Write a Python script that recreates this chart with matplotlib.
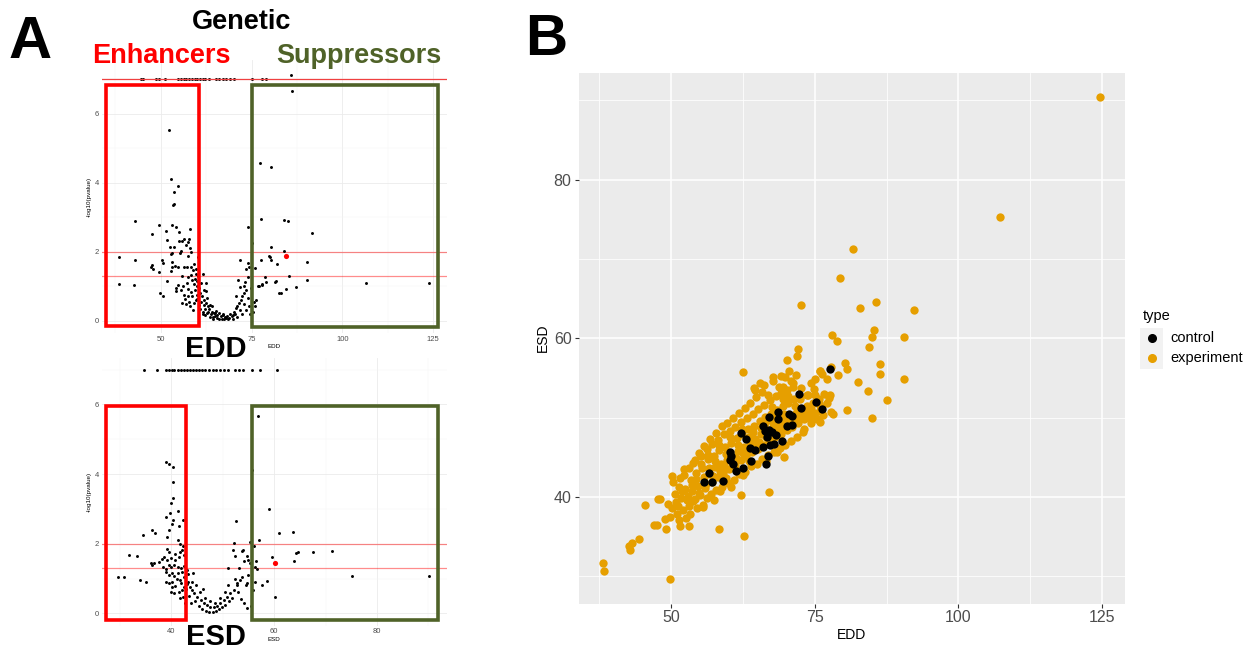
import numpy as np
import matplotlib
matplotlib.use('Agg')
import matplotlib.pyplot as plt
from matplotlib.patches import Rectangle
from matplotlib.lines import Line2D
from matplotlib.ticker import MultipleLocator

plt.rcParams['font.family'] = ['Liberation Sans', 'DejaVu Sans']

# ---- panel A top: EDD vs -log10(pvalue) ----
edd_volcano = [
    (86.0, 7.12), (86.1, 6.66), (52.3, 5.53), (52.7, 4.12), (54.7, 3.91), (53.7, 3.72), (53.5, 3.38), (53.4, 3.34),
    (77.2, 4.58), (80.4, 4.45), (43.0, 2.90), (49.4, 2.77), (47.5, 2.51), (53.0, 2.76), (54.1, 2.71), (51.5, 2.61),
    (55.1, 2.57), (58.0, 2.65), (77.6, 2.94), (84.0, 2.91), (85.0, 2.89), (91.8, 2.53), (74.1, 2.71), (75.1, 2.24),
    (80.3, 2.12), (84.0, 2.03), (79.9, 1.86), (77.7, 1.76), (80.5, 1.75), (82.1, 1.64), (90.3, 1.71), (85.3, 1.30),
    (78.7, 1.26), (79.0, 1.13), (81.5, 1.13), (90.3, 1.18), (77.9, 1.03), (76.9, 0.99), (87.2, 0.97), (84.6, 0.91),
    (82.6, 0.79), (106.6, 1.08), (123.8, 1.08), (38.4, 1.83), (38.6, 1.06), (43.0, 1.75), (42.6, 1.02), (47.5, 1.61),
    (47.2, 1.55), (47.9, 1.49), (49.6, 1.41), (50.2, 1.76), (50.6, 1.68), (49.8, 0.81), (50.6, 0.71), (51.7, 1.16),
    (51.6, 2.34), (52.5, 2.14), (53.5, 2.12), (53.0, 1.97), (52.8, 1.93), (55.9, 2.32), (56.4, 2.36), (57.7, 2.37),
    (57.5, 2.27), (54.9, 2.31), (55.5, 2.02), (55.3, 1.97), (57.0, 2.18), (58.1, 2.10), (58.3, 1.98), (57.5, 1.87),
    (53.0, 1.71), (53.9, 1.57), (54.8, 1.55), (56.3, 1.55), (57.2, 1.55), (52.8, 1.45), (53.2, 1.55), (58.3, 1.55),
    (58.8, 1.47), (59.7, 1.49), (55.7, 1.28), (57.4, 1.26), (58.3, 1.32), (59.7, 1.35), (60.3, 1.28), (54.6, 1.03),
    (56.0, 1.00), (57.2, 1.08), (58.7, 1.18), (59.2, 1.06), (60.1, 1.00), (61.0, 1.10), (62.4, 1.08), (54.3, 0.94),
    (55.5, 0.89), (54.1, 0.87), (57.5, 0.93), (58.3, 0.84), (59.4, 0.89), (56.4, 0.74), (57.5, 0.70), (58.7, 0.71),
    (59.9, 0.74), (60.8, 0.81), (55.9, 0.52), (56.9, 0.48), (58.1, 0.43), (59.2, 0.50), (60.1, 0.62), (61.0, 0.55),
    (61.9, 0.45), (62.7, 0.65), (63.1, 0.41), (63.3, 0.33), (64.0, 0.26), (64.7, 0.21), (65.2, 0.29), (65.6, 0.16),
    (66.1, 0.23), (66.5, 0.12), (67.0, 0.16), (67.6, 0.10), (68.2, 0.14), (68.8, 0.07), (69.5, 0.12), (70.0, 0.16),
    (61.5, 0.26), (62.1, 0.33), (62.7, 0.21), (63.6, 0.45), (64.2, 0.41), (64.9, 0.23), (66.0, 0.05), (65.4, 0.07),
    (67.5, 0.04), (68.4, 0.04), (70.2, 0.26), (70.7, 0.36), (71.1, 0.43), (71.6, 0.52), (72.1, 0.60), (71.9, 0.31),
    (72.5, 0.70), (73.0, 0.79), (73.4, 0.89), (72.8, 0.48), (73.9, 0.65), (74.4, 0.41), (71.3, 1.18), (71.9, 0.97),
    (72.8, 1.00), (73.2, 1.13), (71.9, 1.76), (73.9, 1.68), (73.4, 1.49), (74.4, 1.55), (75.9, 1.52), (76.2, 0.60),
    (75.9, 0.41), (80.2, 1.84), (81.8, 1.15), (77.0, 1.00), (78.0, 1.05), (83.1, 0.79),
    (59.5, 1.20), (60.0, 1.15), (60.5, 0.95), (59.8, 0.60), (60.4, 0.45), (61.3, 0.70), (61.8, 0.90), (62.0, 0.60),
    (62.5, 0.50), (63.0, 0.25), (63.8, 0.18), (64.5, 0.10), (65.0, 0.12), (66.8, 0.06), (67.2, 0.20), (68.0, 0.08),
    (69.0, 0.20), (69.8, 0.05), (70.5, 0.18), (71.0, 0.10), (60.9, 0.35), (61.6, 0.20), (62.3, 0.15), (63.5, 0.10),
    (64.3, 0.05), (58.9, 0.30), (57.8, 0.55), (56.6, 0.62), (60.2, 1.85), (59.2, 1.65), (61.5, 1.35), (62.5, 0.85),
    (70.8, 0.70), (72.3, 0.20), (73.6, 0.30), (74.6, 0.20), (74.8, 0.95), (74.0, 1.25), (75.5, 0.26), (75.8, 0.55),
]
edd_capped = [44.5, 45.2, 48.8, 49.6, 51.2, 54.7, 55.5, 56.3, 57.0, 57.8, 58.5, 59.3, 60.0, 60.8, 61.5, 62.3,
              63.2, 65.2, 66.0, 67.0, 68.0, 69.0, 70.1, 75.0, 78.0, 78.9]
edd_highlight = (84.5, 1.86)

# ---- panel A bottom: ESD vs -log10(pvalue) ----
esd_volcano = [
    (56.8, 5.67), (55.6, 4.13), (58.9, 2.99), (61.0, 2.31), (63.6, 2.34), (57.0, 2.10), (55.2, 2.04), (59.6, 1.63),
    (63.8, 1.51), (64.3, 1.72), (64.6, 1.75), (67.5, 1.75), (71.3, 1.79), (75.2, 1.07), (90.2, 1.07), (58.6, 0.94),
    (57.7, 0.81), (60.1, 0.46), (55.8, 0.67), (52.5, 2.66), (52.1, 2.03), (52.0, 1.82), (52.4, 1.65), (54.0, 1.82),
    (54.7, 1.65), (55.0, 1.53), (55.3, 1.44), (56.0, 1.92), (56.3, 1.34), (56.6, 1.28), (51.1, 1.29), (54.7, 0.86),
    (54.6, 0.81), (52.7, 0.86), (53.4, 0.96), (53.7, 1.05),
    (39.0, 4.36), (39.6, 4.29), (40.4, 4.21), (40.4, 3.78), (39.9, 3.18), (40.3, 3.30), (39.7, 2.87), (41.2, 2.95),
    (39.0, 2.78), (40.4, 2.68), (40.1, 2.57), (42.3, 2.68), (41.5, 2.51), (34.4, 2.25), (36.3, 2.38), (36.8, 2.32),
    (39.2, 2.19), (39.5, 2.39), (41.3, 2.11), (41.6, 1.99), (42.3, 1.92), (31.8, 1.68), (33.3, 1.65), (39.2, 1.84),
    (39.5, 1.77), (38.6, 1.63), (39.1, 1.53), (39.9, 1.58), (41.7, 1.77), (42.1, 1.82), (42.4, 1.68), (41.5, 1.63),
    (40.8, 1.53), (36.0, 1.44), (36.3, 1.39), (36.7, 1.46), (37.6, 1.48), (38.1, 1.55), (38.3, 1.34), (38.9, 1.26),
    (39.9, 1.34), (40.5, 1.39), (41.2, 1.32), (41.8, 1.29), (42.4, 1.36), (29.7, 1.05), (30.7, 1.05), (33.9, 0.96),
    (35.1, 0.89),
    (38.9, 1.20), (39.5, 1.10), (40.1, 1.17), (40.6, 1.07), (41.3, 1.15), (42.1, 1.20), (43.0, 1.25), (43.2, 1.13),
    (38.9, 0.91), (39.5, 0.86), (40.2, 0.91), (40.8, 0.79), (41.8, 0.86), (42.4, 0.77), (43.0, 0.84), (39.9, 0.62),
    (40.6, 0.57), (41.7, 0.43), (42.3, 0.48), (42.1, 0.67), (42.8, 0.69), (43.2, 0.91), (43.6, 0.77), (44.1, 0.67),
    (44.4, 0.57), (45.0, 0.48), (45.7, 0.38), (46.3, 0.31), (47.0, 0.24), (47.6, 0.19), (48.2, 0.17), (48.9, 0.21),
    (49.5, 0.29), (50.2, 0.38), (50.8, 0.48), (51.5, 0.57), (52.1, 0.67), (52.7, 0.81),
    (44.5, 0.35), (45.3, 0.20), (46.0, 0.12), (46.8, 0.08), (47.3, 0.05), (48.0, 0.04), (48.6, 0.08), (49.2, 0.12),
    (49.8, 0.18), (50.5, 0.25), (51.2, 0.35), (51.8, 0.45), (45.5, 0.60), (46.5, 0.45), (47.5, 0.35), (48.5, 0.30),
    (49.5, 0.45), (50.5, 0.60), (51.0, 0.80), (52.3, 1.00), (53.0, 0.60), (53.5, 0.40), (54.2, 0.30), (54.8, 0.15),
    (55.5, 0.20), (44.0, 0.90), (43.5, 0.50), (44.8, 0.80), (46.2, 0.70), (44.2, 1.15), (43.8, 0.30), (42.6, 0.30),
    (41.4, 0.60), (40.2, 0.75), (39.6, 1.40), (40.7, 1.70), (41.0, 1.00), (41.6, 0.95), (42.5, 1.05), (53.2, 1.30),
    (53.8, 1.80), (54.2, 1.50), (55.0, 1.10), (56.2, 0.90), (56.5, 1.50),
]
esd_capped = [34.7, 37.3, 38.9, 39.5, 40.1, 40.6, 41.2, 41.8, 42.4, 43.0, 43.6, 44.2, 44.8, 45.3, 46.0, 46.6,
              47.3, 48.0, 48.6, 49.5, 50.3, 51.1, 52.4, 53.1, 54.0, 55.7, 57.3, 60.5]
esd_highlight = (60.1, 1.46)

# ---- panel B: EDD vs ESD ----
experiment_outer = [
    (124.7, 90.4), (107.2, 75.3), (81.6, 71.3), (79.4, 67.6), (72.7, 64.2), (85.7, 64.6), (82.8, 63.8), (92.3, 63.6),
    (85.3, 61.0), (85.0, 60.1), (90.6, 60.1), (78.1, 60.4), (78.8, 59.7), (84.4, 58.9), (72.1, 58.7), (71.9, 57.7),
    (70.1, 57.2), (80.2, 56.9), (80.7, 56.1), (86.3, 56.8), (86.4, 55.5), (77.9, 56.4), (76.0, 55.9), (62.6, 55.7),
    (75.0, 54.9), (76.3, 55.5), (82.5, 54.5), (90.6, 54.9), (74.3, 54.4), (84.3, 53.3), (87.5, 52.2), (77.5, 52.5),
    (80.7, 50.9), (84.9, 49.9), (77.9, 50.7), (78.2, 50.4), (75.9, 49.4), (69.7, 45.0), (67.1, 40.6), (62.7, 35.1),
    (58.3, 35.9), (49.9, 29.6), (38.2, 31.7), (38.4, 30.7), (42.9, 33.3), (42.7, 33.8), (43.2, 34.2), (44.5, 34.7),
    (47.0, 36.4), (47.5, 36.5), (49.1, 35.9), (48.9, 37.2), (49.9, 37.5), (45.4, 39.0), (47.7, 39.7), (51.4, 37.1),
    (51.6, 36.3), (53.2, 36.3), (62.2, 40.3), (70.6, 55.9), (69.1, 55.3), (67.8, 55.1), (66.2, 54.1), (64.7, 53.5),
    (69.5, 53.9), (71.2, 54.3), (76.0, 55.9), (79.1, 55.4), (77.2, 54.8), (75.1, 52.9), (75.7, 51.9), (73.7, 52.9),
    (72.5, 52.3), (74.3, 51.2), (76.0, 50.8), (49.4, 39.1), (48.0, 39.7),
]
experiment_core = [
    (50.1, 38.6), (50.7, 40.4), (50.4, 41.9), (50.9, 39.3), (50.2, 42.6),
    (51.1, 37.8), (51.7, 39.9), (51.4, 41.2), (51.9, 40.7), (51.2, 38.9), (51.6, 42.4),
    (52.1, 38.3), (52.7, 39.6), (52.4, 41.0), (52.9, 40.1), (52.2, 42.7), (52.6, 37.4), (52.3, 43.5),
    (53.1, 38.9), (53.7, 40.8), (53.4, 42.1), (53.9, 39.5), (53.2, 43.6), (53.6, 41.5), (53.3, 37.9), (53.8, 44.3),
    (54.1, 39.7), (54.7, 41.4), (54.4, 43.0), (54.9, 40.5), (54.2, 44.6), (54.6, 38.6), (54.3, 42.3), (54.8, 45.5),
    (55.1, 40.3), (55.7, 42.5), (55.4, 43.7), (55.9, 41.1), (55.2, 45.1), (55.6, 39.0), (55.3, 44.2), (55.8, 46.4),
    (55.5, 38.7), (56.1, 41.6), (56.7, 42.9), (56.4, 44.8), (56.9, 40.4), (56.2, 46.0), (56.6, 43.6), (56.3, 39.8),
    (56.8, 47.3), (56.5, 45.3), (57.1, 41.9), (57.7, 43.8), (57.4, 45.2), (57.9, 40.9), (57.2, 46.7), (57.6, 44.5),
    (57.3, 42.6), (57.8, 48.1), (57.5, 39.6), (58.1, 42.5), (58.7, 44.1), (58.4, 45.9), (58.9, 41.3), (58.2, 47.2),
    (58.6, 43.3), (58.3, 46.5), (58.8, 48.9), (58.5, 40.7), (59.1, 43.0), (59.7, 44.7), (59.4, 46.3), (59.9, 41.8),
    (59.2, 47.9), (59.6, 45.4), (59.3, 43.9), (59.8, 49.3), (59.5, 42.4), (60.1, 43.5), (60.7, 45.0), (60.4, 46.8),
    (60.9, 42.1), (60.2, 48.3), (60.6, 44.4), (60.3, 47.5), (60.8, 49.9), (60.5, 41.2), (61.1, 44.0), (61.7, 45.8),
    (61.4, 47.4), (61.9, 42.9), (61.2, 48.8), (61.6, 46.6), (61.3, 44.9), (61.8, 50.6), (61.5, 43.3), (62.1, 44.6),
    (62.7, 46.3), (62.4, 47.9), (62.9, 43.2), (62.2, 49.4), (62.6, 45.5), (62.3, 48.6), (62.8, 51.2), (62.5, 42.8),
    (63.1, 45.1), (63.7, 46.9), (63.4, 48.5), (63.9, 43.9), (63.2, 50.0), (63.6, 47.6), (63.3, 45.8), (63.8, 51.8),
    (63.5, 44.5), (64.1, 45.7), (64.7, 47.3), (64.4, 49.0), (64.9, 44.2), (64.2, 50.5), (64.6, 46.4), (64.3, 48.2),
    (64.8, 52.6), (64.5, 53.7), (65.1, 46.1), (65.7, 47.9), (65.4, 49.6), (65.9, 44.8), (65.2, 51.1), (65.6, 48.7),
    (65.3, 46.9), (65.8, 53.2), (65.5, 54.3), (66.1, 46.6), (66.7, 48.4), (66.4, 50.1), (66.9, 45.3), (66.2, 51.6),
    (66.6, 47.5), (66.3, 49.3), (66.8, 52.9), (66.5, 44.5), (67.1, 47.0), (67.7, 48.8), (67.4, 50.5), (67.9, 45.7),
    (67.2, 52.2), (67.6, 49.6), (67.3, 47.8), (67.8, 54.6), (67.5, 51.3), (68.1, 47.5), (68.7, 49.3), (68.4, 51.0),
    (68.9, 46.2), (68.2, 52.7), (68.6, 48.4), (68.3, 50.2), (68.8, 53.8), (68.5, 45.6), (69.1, 47.9), (69.7, 49.7),
    (69.4, 51.5), (69.9, 46.6), (69.2, 53.1), (69.6, 50.4), (69.3, 48.8), (69.8, 55.1), (69.5, 52.3), (70.1, 48.4),
    (70.7, 50.1), (70.4, 51.9), (70.9, 47.1), (70.2, 53.5), (70.6, 49.3), (70.3, 52.7), (70.8, 54.6), (71.1, 48.8),
    (71.7, 50.6), (71.4, 52.3), (71.9, 47.6), (71.2, 53.9), (71.6, 51.4), (71.3, 49.7), (71.8, 55.4), (72.1, 49.3),
    (72.7, 51.0), (72.4, 52.6), (72.9, 48.2), (72.2, 50.2), (72.6, 53.7), (73.1, 49.8), (73.7, 51.5), (73.4, 50.6),
    (73.9, 52.9), (73.2, 48.6), (74.1, 50.1), (74.7, 51.9), (74.4, 49.3), (74.9, 53.6), (74.2, 50.9), (75.1, 50.6),
    (75.7, 52.3), (75.4, 49.8), (75.9, 51.4), (76.1, 51.2), (76.7, 53.0), (76.4, 50.3), (77.1, 51.8), (77.7, 52.9),
]
control = [
    (77.7, 56.1), (72.3, 53.0), (75.3, 52.0), (76.2, 51.1), (72.7, 51.2), (68.7, 50.7), (70.6, 50.45), (71.1, 50.2),
    (67.1, 50.1), (68.7, 49.8), (70.2, 49.0), (71.1, 49.1), (66.0, 49.0), (66.4, 48.3), (67.1, 48.4), (67.6, 48.2),
    (68.2, 47.8), (66.7, 47.5), (67.9, 46.7), (67.2, 46.6), (69.3, 47.0), (62.2, 48.0), (63.1, 47.3), (63.8, 46.2),
    (64.6, 45.9), (66.0, 46.3), (66.9, 45.2), (60.3, 45.65), (60.4, 45.1), (60.2, 44.6), (60.7, 44.1), (64.0, 44.5),
    (66.5, 44.1), (62.5, 43.7), (61.3, 43.3), (56.6, 43.0), (55.7, 41.85), (57.1, 41.85), (59.1, 42.0),
]

W, H = 1246, 652
RED = '#FF0000'
OLIVE = '#4F6228'
ORANGE = '#E69F00'
GREY_TXT = '#4D4D4D'


def fx(x):
    return x / W


def fy(y):
    return 1 - y / H


def fig_axes(fig, x0, y0, x1, y1):
    return fig.add_axes([fx(x0), fy(y1), (x1 - x0) / W, (y1 - y0) / H])


def style_minimal(ax):
    ax.set_facecolor('white')
    for s in ax.spines.values():
        s.set_visible(False)
    ax.grid(which='major', color='#EBEBEB', lw=0.6)
    ax.grid(which='minor', color='#F4F4F4', lw=0.35)
    ax.set_axisbelow(True)
    ax.tick_params(which='both', length=0, labelsize=5.5, labelcolor=GREY_TXT, pad=2)


fig = plt.figure(figsize=(W / 100, H / 100), dpi=100)

# top volcano
ax1 = fig_axes(fig, 101.7, 59.9, 446.7, 333)
style_minimal(ax1)
ax1.scatter([p[0] for p in edd_volcano], [p[1] for p in edd_volcano], s=4.5, c='black', lw=0, zorder=3)
ax1.scatter(edd_capped, [7.0] * len(edd_capped), s=4.5, c='black', lw=0, zorder=3)
ax1.scatter([edd_highlight[0]], [edd_highlight[1]], s=14, c=RED, lw=0, zorder=4)
for lev in (2.0, 1.3):
    ax1.axhline(lev, color=RED, alpha=0.45, lw=0.9, zorder=2)
ax1.axhline(7.0, color='#F04040', lw=0.9, zorder=4)
ax1.set_xlim(33.7, 128.8)
ax1.set_ylim(-0.36, 7.56)
ax1.xaxis.set_major_locator(MultipleLocator(25))
ax1.xaxis.set_minor_locator(MultipleLocator(12.5))
ax1.yaxis.set_major_locator(MultipleLocator(2))
ax1.yaxis.set_minor_locator(MultipleLocator(1))
ax1.set_xlabel('EDD', fontsize=4.5, labelpad=1)
ax1.set_ylabel('-log10(pvalue)', fontsize=4.5, labelpad=2)

# bottom volcano
ax2 = fig_axes(fig, 101.7, 357.5, 446.7, 625.5)
style_minimal(ax2)
ax2.scatter([p[0] for p in esd_volcano], [p[1] for p in esd_volcano], s=4.5, c='black', lw=0, zorder=3)
ax2.scatter(esd_capped, [7.0] * len(esd_capped), s=4.5, c='black', lw=0, zorder=3)
ax2.scatter([esd_highlight[0]], [esd_highlight[1]], s=14, c=RED, lw=0, zorder=4)
for lev in (2.0, 1.3):
    ax2.axhline(lev, color=RED, alpha=0.45, lw=0.9, zorder=2)
ax2.set_xlim(26.45, 93.55)
ax2.set_ylim(-0.35, 7.35)
ax2.xaxis.set_major_locator(MultipleLocator(20))
ax2.xaxis.set_minor_locator(MultipleLocator(10))
ax2.yaxis.set_major_locator(MultipleLocator(2))
ax2.yaxis.set_minor_locator(MultipleLocator(1))
ax2.set_xlabel('ESD', fontsize=4.5, labelpad=1)
ax2.set_ylabel('-log10(pvalue)', fontsize=4.5, labelpad=2)

# panel B scatter
ax3 = fig_axes(fig, 578.5, 73, 1125, 603.5)
ax3.set_facecolor('#EBEBEB')
for s in ax3.spines.values():
    s.set_visible(False)
ax3.grid(which='major', color='white', lw=1.1)
ax3.grid(which='minor', color='white', lw=0.55)
ax3.set_axisbelow(True)
experiment = experiment_outer + experiment_core
ax3.scatter([p[0] for p in experiment], [p[1] for p in experiment], s=36, c=ORANGE, lw=0, zorder=3)
ax3.scatter([p[0] for p in control], [p[1] for p in control], s=36, c='black', lw=0, zorder=4)
ax3.set_xlim(33.9, 129.0)
ax3.set_ylim(26.56, 93.44)
ax3.xaxis.set_major_locator(MultipleLocator(25))
ax3.xaxis.set_minor_locator(MultipleLocator(12.5))
ax3.yaxis.set_major_locator(MultipleLocator(20))
ax3.yaxis.set_minor_locator(MultipleLocator(10))
ax3.tick_params(which='major', length=3, width=0.8, color='#333333', labelsize=11.5, labelcolor=GREY_TXT, pad=2)
ax3.tick_params(which='minor', length=0)
ax3.set_xlabel('EDD', fontsize=10, labelpad=2)
ax3.set_ylabel('ESD', fontsize=10, labelpad=3)

# legend for panel B
fig.text(fx(1143), fy(316), 'type', fontsize=10.5, va='center', ha='left')
fig.add_artist(Rectangle((fx(1140), fy(369)), 23 / W, 41 / H, transform=fig.transFigure,
                         facecolor='#F2F2F2', edgecolor='none'))
for yy, col, lab in ((338, 'black', 'control'), (358, ORANGE, 'experiment')):
    fig.add_artist(Line2D([fx(1151.5)], [fy(yy)], marker='o', markersize=5.5, color=col, lw=0,
                          transform=fig.transFigure))
    fig.text(fx(1170), fy(yy), lab, fontsize=10.5, va='center', ha='left')

# overlay boxes on panel A
boxes = [
    (106, 85, 199, 326, RED), (252, 85, 438, 326.5, OLIVE),
    (106, 405.7, 186, 620, RED), (252, 405.7, 438, 620, OLIVE),
]
for x0, y0, x1, y1, col in boxes:
    fig.add_artist(Rectangle((fx(x0), fy(y1)), (x1 - x0) / W, (y1 - y0) / H, transform=fig.transFigure,
                             facecolor='none', edgecolor=col, lw=2.6, zorder=10))

# panel labels and titles
fig.text(fx(30), fy(43), 'A', fontsize=43, fontweight='bold', ha='center', va='center')
fig.text(fx(546), fy(40), 'B', fontsize=42, fontweight='bold', ha='center', va='center')
fig.text(fx(242), fy(22), 'Genetic', fontsize=19.5, fontweight='bold', ha='center', va='center')
fig.text(fx(161), fy(56), 'Enhancers', fontsize=19.5, fontweight='bold', color=RED, ha='center', va='center')
fig.text(fx(359), fy(56), 'Suppressors', fontsize=19.5, fontweight='bold', color=OLIVE, ha='center', va='center')
fig.text(fx(216), fy(349), 'EDD', fontsize=21, fontweight='bold', ha='center', va='center')
fig.text(fx(216), fy(637), 'ESD', fontsize=21, fontweight='bold', ha='center', va='center')

fig.savefig('out.png', dpi=100)
